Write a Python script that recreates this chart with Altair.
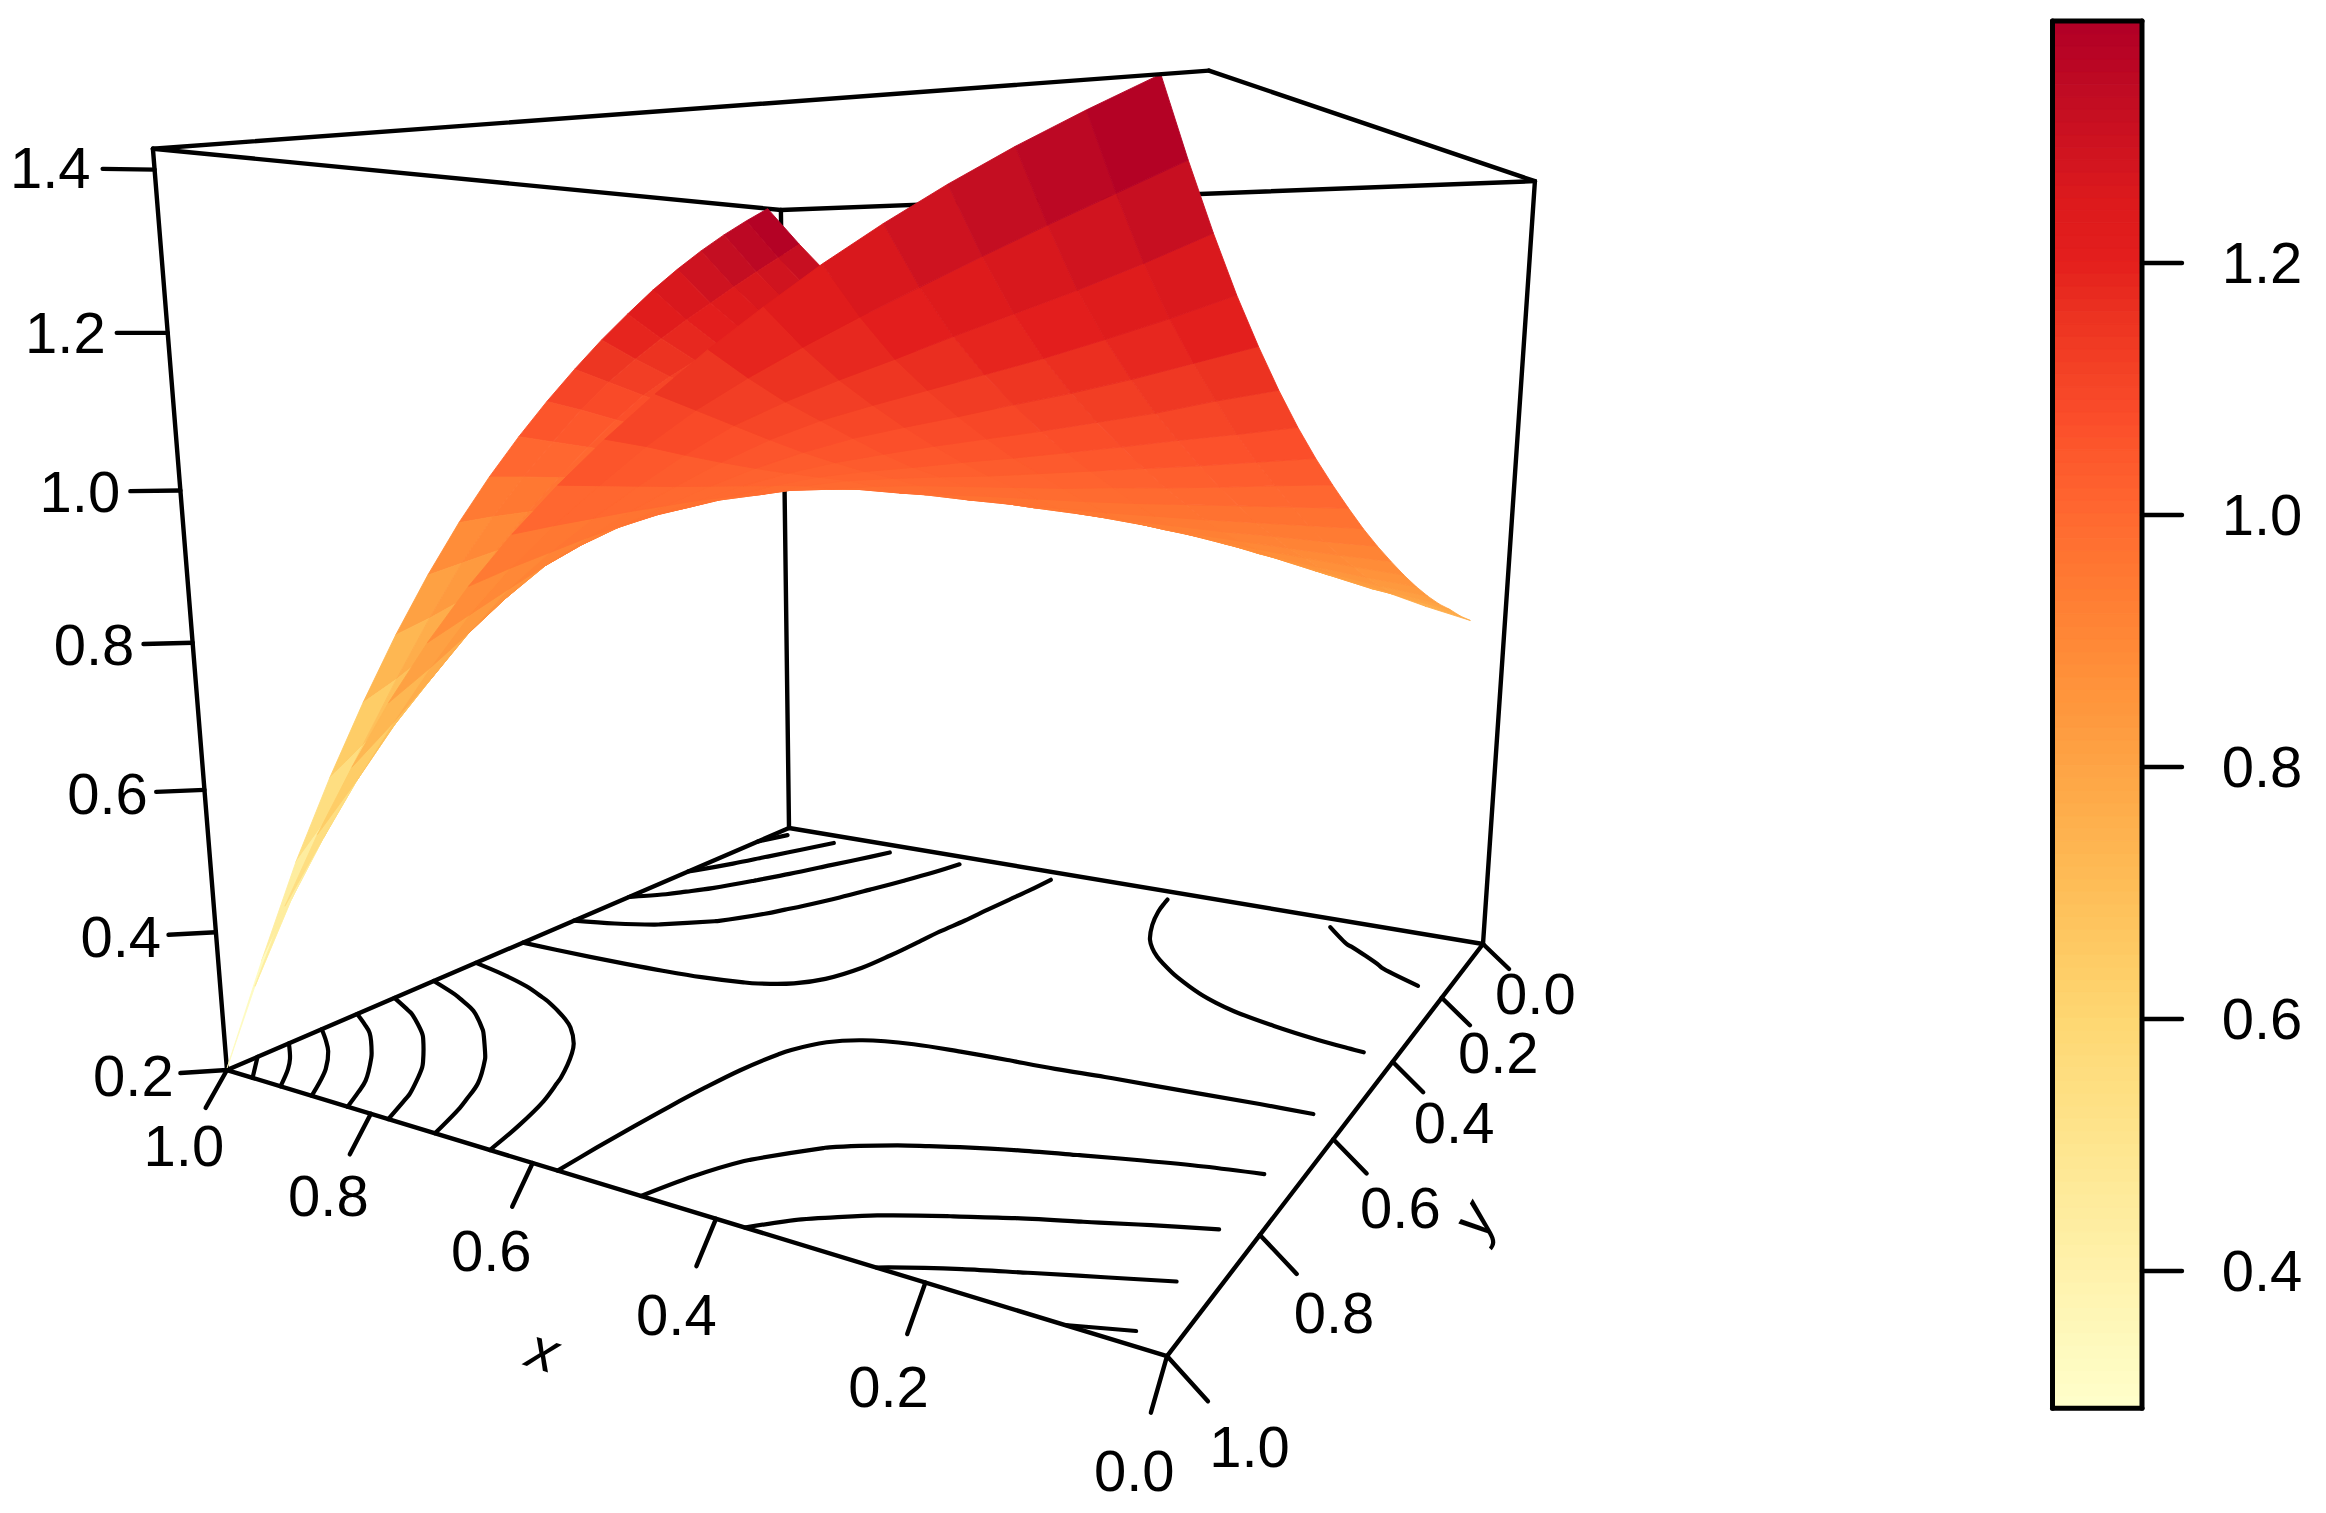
import altair as alt
import pandas as pd

W, H = 2310, 1497
GRID = [.032, .083, .134, .185, .236, .287, .338, .389, .44, .491, .541, .592, .643, .694, .745, .796, .847, .898, .949, 1.0]
Z_LOWER = [
    [.748],
    [.765, .785],
    [.785, .798, .82],
    [.803, .815, .83, .85],
    [.824, .834, .847, .861, .878],
    [.847, .855, .865, .877, .890, .903],
    [0.872, 0.879, 0.887, 0.895, 0.905, 0.915, 0.926],
    [0.899, 0.903, 0.908, 0.914, 0.920, 0.928, 0.936, 0.944],
    [0.927, 0.929, 0.932, 0.934, 0.938, 0.942, 0.947, 0.952, 0.958],
    [0.957, 0.957, 0.957, 0.957, 0.958, 0.959, 0.961, 0.963, 0.966, 0.970],
    [0.989, 0.987, 0.985, 0.983, 0.981, 0.980, 0.980, 0.980, 0.979, 0.978, 0.980],
    [1.023, 1.019, 1.014, 1.010, 1.007, 1.003, 1.001, 0.999, 0.997, 0.993, 0.986, 0.981],
    [1.059, 1.052, 1.045, 1.039, 1.033, 1.027, 1.021, 1.017, 1.012, 1.006, 0.996, 0.981, 0.970],
    [1.098, 1.088, 1.079, 1.069, 1.060, 1.051, 1.043, 1.034, 1.026, 1.016, 1.002, 0.984, 0.966, 0.950],
    [1.141, 1.128, 1.113, 1.101, 1.089, 1.078, 1.067, 1.055, 1.042, 1.026, 1.007, 0.985, 0.962, 0.940, 0.916],
    [1.188, 1.170, 1.152, 1.136, 1.122, 1.107, 1.093, 1.078, 1.059, 1.037, 1.012, 0.984, 0.955, 0.925, 0.890, 0.850],
    [1.239, 1.216, 1.195, 1.175, 1.157, 1.139, 1.121, 1.102, 1.078, 1.049, 1.017, 0.983, 0.946, 0.906, 0.858, 0.805, 0.748],
    [1.296, 1.269, 1.244, 1.221, 1.198, 1.174, 1.151, 1.126, 1.098, 1.062, 1.023, 0.981, 0.935, 0.884, 0.822, 0.755, 0.686, 0.614],
    [1.358, 1.331, 1.304, 1.276, 1.247, 1.218, 1.187, 1.154, 1.118, 1.076, 1.029, 0.979, 0.924, 0.861, 0.788, 0.709, 0.625, 0.536, 0.439],
    [1.425, 1.399, 1.371, 1.340, 1.306, 1.269, 1.228, 1.185, 1.138, 1.088, 1.035, 0.976, 0.911, 0.838, 0.757, 0.667, 0.569, 0.461, 0.336, 0.202],
]
CONTOUR_LEVELS = [.3, .4, .5, .6, .7, .8, .9, 1.0, 1.1, 1.2, 1.3, 1.4]
X_TICKS = [0.0, .2, .4, .6, .8, 1.0]
Y_TICKS = [0.0, .2, .4, .6, .8, 1.0]
Z_TICKS = [.2, .4, .6, .8, 1.0, 1.2, 1.4]
BAR_TICKS = [.4, .6, .8, 1.0, 1.2]
Z_LOW, Z_HIGH = .2, 1.425
BAR_LOW, BAR_HIGH = .291, 1.392
COLOR_Z = [.29, .4, .6, .8, 1.01, 1.075, 1.2, 1.25, 1.33, 1.39]
COLOR_HEX = ["#ffffcc", "#fff2ac", "#fed772", "#fea445", "#ff6530", "#fb4e2a", "#e41f1d", "#dc1a1c", "#c20d22", "#b10026"]

FONT = "Liberation Sans"
FS = 58
LW = 4.4


def project(u, v, z):
    w = (z - Z_LOW) / (Z_HIGH - Z_LOW)
    d = .2304 * u - .3995 * v - .0821 * w + 1
    return (-512.2 * u - 782.2 * v - 74.1 * w + 1483) / d - 8, (74.8 * u - 129.7 * v - 777.7 * w + 944) / d - 8


def depth(u, v, z):
    w = (z - Z_LOW) / (Z_HIGH - Z_LOW)
    return .2304 * u - .3995 * v - .0821 * w + 1


def zval(i, j):
    return Z_LOWER[max(i, j)][min(i, j)]


def seg(u1, v1, z1, u2, v2, z2):
    a, b = project(u1, v1, z1), project(u2, v2, z2)
    return {"x": a[0], "y": a[1], "x2": b[0], "y2": b[1]}


n = len(GRID)
cells = []
for i in range(n - 1):
    for j in range(n - 1):
        corners = [(i, j), (i + 1, j), (i + 1, j + 1), (i, j + 1)]
        zs = [zval(a, b) for a, b in corners]
        ring = [list(project(GRID[a], GRID[b], zval(a, b))) for a, b in corners]
        ring.append(ring[0])
        mean_u = (GRID[i] + GRID[i + 1]) / 2
        mean_v = (GRID[j] + GRID[j + 1]) / 2
        cells.append((depth(mean_u, mean_v, sum(zs) / 4), {
            "type": "Feature",
            "geometry": {"type": "Polygon", "coordinates": [ring]},
            "properties": {"z": sum(zs) / 4},
        }))
cells.sort(key=lambda c: -c[0])
features = [c[1] for c in cells]

contour_rows = []
gid = 0
for level in CONTOUR_LEVELS:
    lv = level + 1e-4
    segs = []
    for i in range(n - 1):
        for j in range(n - 1):
            c = [(i, j), (i + 1, j), (i + 1, j + 1), (i, j + 1)]
            pts = []
            for k in range(4):
                a, b = c[k], c[(k + 1) % 4]
                za, zb = zval(*a), zval(*b)
                if (za - lv) * (zb - lv) < 0:
                    t = (lv - za) / (zb - za)
                    pts.append((round(GRID[a[0]] + t * (GRID[b[0]] - GRID[a[0]]), 7),
                                round(GRID[a[1]] + t * (GRID[b[1]] - GRID[a[1]]), 7)))
            for k in range(0, len(pts) - 1, 2):
                segs.append((pts[k], pts[k + 1]))
    while segs:
        line = list(segs.pop())
        grown = True
        while grown:
            grown = False
            for s in segs:
                if s[0] == line[-1]:
                    line.append(s[1])
                elif s[1] == line[-1]:
                    line.append(s[0])
                elif s[0] == line[0]:
                    line.insert(0, s[1])
                elif s[1] == line[0]:
                    line.insert(0, s[0])
                else:
                    continue
                segs.remove(s)
                grown = True
                break
        for k, p in enumerate(line):
            q = project(p[0], p[1], Z_LOW)
            contour_rows.append({"x": q[0], "y": q[1], "g": gid, "k": k})
        gid += 1

L, T = Z_LOW, Z_HIGH
back_edges = [
    (1, 1, L, 1, 0, L), (1, 0, L, 0, 0, L), (0, 0, L, 0, 1, L), (0, 1, L, 1, 1, L),
    (1, 1, L, 1, 1, T), (0, 0, L, 0, 0, T), (1, 0, L, 1, 0, T),
    (1, 1, T, 1, 0, T), (1, 0, T, 0, 0, T),
]
front_edges = [(1, 1, T, 0, 1, T), (0, 1, T, 0, 0, T)]
box_rows = [seg(*e) for e in back_edges]
front_rows = [seg(*e) for e in front_edges]

tick_rows, label_rows = [], []
ex = (0, .028, -.033 * (T - L))
ey = (-.032, 0, -.029 * (T - L))
ez = (.034, .028, 0)
for t in X_TICKS:
    tick_rows.append(seg(t, 1, L, t + ex[0], 1 + ex[1], L + ex[2]))
    p = project(t + 2 * ex[0], 1 + 2 * ex[1], L + 2 * ex[2])
    label_rows.append({"x": p[0], "y": p[1], "t": f"{t:.1f}"})
for t in Y_TICKS:
    tick_rows.append(seg(0, t, L, ey[0], t + ey[1], L + ey[2]))
    p = project(2 * ey[0], t + 2 * ey[1], L + 2 * ey[2])
    label_rows.append({"x": p[0], "y": p[1], "t": f"{t:.1f}"})
for t in Z_TICKS:
    tick_rows.append(seg(1, 1, t, 1 + ez[0], 1 + ez[1], t))
    p = project(1 + 2 * ez[0], 1 + 2 * ez[1], t)
    label_rows.append({"x": p[0], "y": p[1], "t": f"{t:.1f}"})

BAR_X0, BAR_X1 = 2044.5, 2134
BAR_TICK_END, BAR_LABEL_X = 2174, 2254


def bar_y(z):
    return 263 - 8 + (1.2 - z) * 1260


bar_steps = int((BAR_HIGH - BAR_LOW) / .01)
bar_vals = [BAR_LOW + (BAR_HIGH - BAR_LOW) * k / bar_steps for k in range(bar_steps)]
bar_dz = (BAR_HIGH - BAR_LOW) / bar_steps
bar_rows = [{"x": BAR_X0, "x2": BAR_X1, "y": bar_y(z + bar_dz), "y2": bar_y(z), "z": z + bar_dz / 2} for z in bar_vals]
ty0, ty1 = bar_y(BAR_HIGH), bar_y(BAR_LOW)
bar_frame = [
    {"x": BAR_X0, "y": ty0, "x2": BAR_X1, "y2": ty0}, {"x": BAR_X0, "y": ty1, "x2": BAR_X1, "y2": ty1},
    {"x": BAR_X0, "y": ty0, "x2": BAR_X0, "y2": ty1}, {"x": BAR_X1, "y": ty0, "x2": BAR_X1, "y2": ty1},
]
bar_ticks = [{"x": BAR_X1, "y": bar_y(z), "x2": BAR_TICK_END, "y2": bar_y(z)} for z in BAR_TICKS]
bar_labels = [{"x": BAR_LABEL_X, "y": bar_y(z), "t": f"{z:.1f}"} for z in BAR_TICKS]

px = alt.Scale(domain=[0, W], range=[0, W])
py = alt.Scale(domain=[0, H], range=[0, H])
colors = alt.Scale(domain=COLOR_Z, range=COLOR_HEX, clamp=True)


def rules(rows, width=LW):
    return alt.Chart(pd.DataFrame(rows)).mark_rule(strokeWidth=width, strokeCap="round", color="black").encode(
        x=alt.X("x:Q", scale=px, axis=None), y=alt.Y("y:Q", scale=py, axis=None),
        x2="x2:Q", y2="y2:Q")


def texts(rows, **kw):
    return alt.Chart(pd.DataFrame(rows)).mark_text(font=FONT, fontSize=FS, align="center", baseline="middle", color="black", **kw).encode(
        x=alt.X("x:Q", scale=px, axis=None), y=alt.Y("y:Q", scale=py, axis=None), text="t:N")


contours = alt.Chart(pd.DataFrame(contour_rows)).mark_line(
    strokeWidth=4.2, strokeCap="round", strokeJoin="round", color="black", interpolate="catmull-rom"
).encode(
    x=alt.X("x:Q", scale=px, axis=None), y=alt.Y("y:Q", scale=py, axis=None),
    detail="g:N", order="k:Q")

surface = alt.Chart(alt.InlineData(values={"type": "FeatureCollection", "features": features},
                                   format=alt.DataFormat(type="json", property="features"))).mark_geoshape(
    filled=True, strokeWidth=.9
).encode(
    fill=alt.Fill("properties.z:Q", scale=colors, legend=None),
    stroke=alt.Stroke("properties.z:Q", scale=colors, legend=None),
).project(type="identity", scale=1, translate=[0, 0])

colorbar = alt.Chart(pd.DataFrame(bar_rows)).mark_rect().encode(
    x=alt.X("x:Q", scale=px, axis=None), x2="x2:Q",
    y=alt.Y("y:Q", scale=py, axis=None), y2="y2:Q",
    fill=alt.Fill("z:Q", scale=colors, legend=None),
    stroke=alt.Stroke("z:Q", scale=colors, legend=None),
)

xp = project(.49, 1 + 3.9 * .028, L - 3.9 * .033 * (T - L))
yp = project(-3.4 * .032, .47, L - 3.4 * .029 * (T - L))

chart = alt.layer(
    rules(box_rows),
    contours,
    surface,
    rules(front_rows),
    rules(tick_rows),
    texts(label_rows, dy=3),
    colorbar,
    rules(bar_frame, 5),
    rules(bar_ticks),
    texts(bar_labels, dy=3),
    texts([{"x": xp[0] - 7, "y": xp[1] - 24, "t": "x"}], angle=17, fontStyle="italic"),
    texts([{"x": yp[0] - 6, "y": yp[1] + 24, "t": "y"}], angle=300, fontStyle="italic"),
).properties(width=W, height=H, padding=0, autosize=alt.AutoSizeParams(type="none"), background="white"
).configure_view(stroke=None)

chart.save("out.html", embed_options={"renderer": "svg", "actions": False})
